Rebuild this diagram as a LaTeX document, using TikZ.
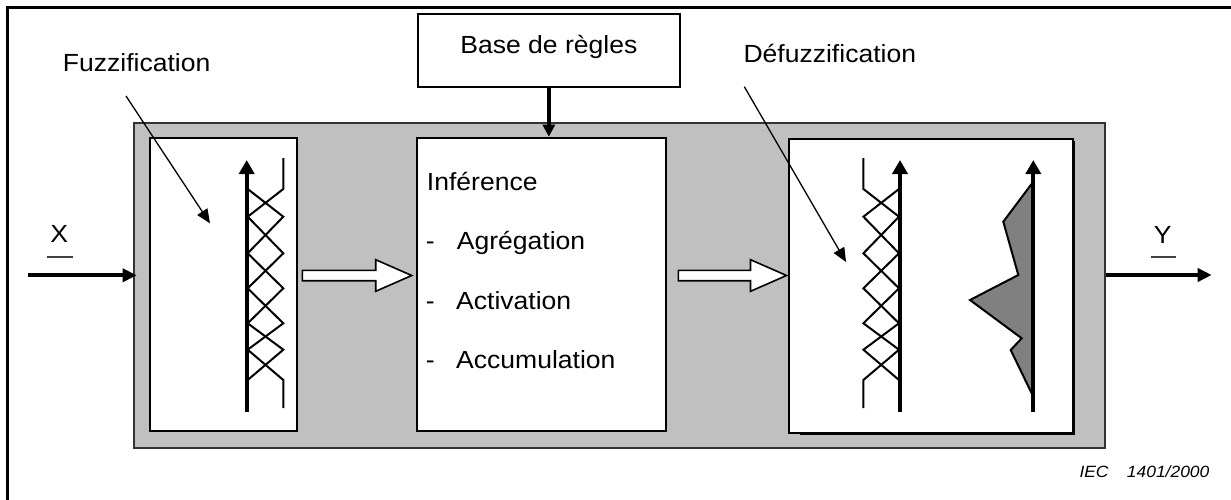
\documentclass[tikz,border=0pt]{standalone}
\usepackage{fontspec}
\setmainfont{Liberation Sans}[FakeStretch=1.07]
\usetikzlibrary{arrows.meta,calc}

\definecolor{panelgray}{HTML}{C0C0C0}
\definecolor{outgray}{HTML}{808080}
\definecolor{ulgray}{HTML}{404040}

% draws a white block arrow from #1 to #2 (horizontal)
\newcommand\blockarrowdraw[2]{%
  \draw[hollow] ($(#1)+(0,-5.2)$) -- ($(#2)+(-36,-5.2)$) -- ($(#2)+(-36,-15.8)$)
    -- (#2) -- ($(#2)+(-36,15.8)$) -- ($(#2)+(-36,5.2)$) -- ($(#1)+(0,5.2)$) -- cycle;}

\tikzset{
  pics/mfset/.style={code={
    \draw[mf] (36.6,158) -- (36.6,189) -- (1,216.7);
    \draw[mf] (1,189) -- (36.6,216.7) -- (1,253.3);
    \draw[mf] (1,216.7) -- (36.6,253.3) -- (1,288.3);
    \draw[mf] (1,253.3) -- (36.6,288.3) -- (1,323.3);
    \draw[mf] (1,288.3) -- (36.6,323.3) -- (1,349.7);
    \draw[mf] (1,323.3) -- (36.6,349.7) -- (1,380);
    \draw[mf] (1,349.7) -- (36.6,380) -- (36.6,408);
  }}
}

\begin{document}
\begin{tikzpicture}[x=1pt,y=-1pt,
  lbl/.style={inner sep=0pt, anchor=base west, font=\fontsize{24.8}{29}\selectfont},
  iec/.style={inner sep=0pt, anchor=base west, font=\fontsize{16.3}{19}\selectfont\itshape},
  box/.style={draw=black, line width=2pt, fill=white, inner sep=0pt, anchor=north west},
  panel/.style={draw=black!80, line width=1.8pt, fill=panelgray, inner sep=0pt, anchor=north west},
  axis/.style={line width=4.2pt, -{Triangle[length=14pt,width=15pt]}},
  mf/.style={line width=2pt, line join=miter},
  io/.style={line width=4.2pt, -{Triangle[length=14pt,width=13pt]}},
  feed/.style={line width=4.2pt, -{Triangle[length=12pt,width=12pt]}},
  ptr/.style={line width=1.3pt, -{Triangle[length=14pt,width=12pt]}},
  hollow/.style={draw=black, line width=1.6pt, fill=white, line join=miter},
  uline/.style={draw=ulgray, line width=1.8pt},
]
\useasboundingbox (0,0) rectangle (1231,500);

% sheet frame (top and left edges)
\draw[line width=2.4pt] (7.5,500) -- (7.5,7.5) -- (1231,7.5);

% grey system block and its three stages
\node[panel, minimum width=971pt, minimum height=325pt] (panel) at (133,122) {};
\node[box, minimum width=146.7pt, minimum height=292.7pt] (fuzz) at (149,137.3) {};
\node[box, minimum width=249.3pt, minimum height=293.3pt] (infer) at (415.7,136.7) {};
\fill[black] (800,141) rectangle (1075,434.8);
\node[box, minimum width=284pt, minimum height=293.4pt] (defuzz) at (788.3,138.3) {};

% rule base
\node[box, minimum width=262.3pt, minimum height=73.3pt, text height=18pt, text depth=11.3pt,
      font=\fontsize{24.8}{29}\selectfont] (rules) at (416.7,12.7) {Base de règles};
\draw[feed] (rules.south) -- (rules.south |- infer.north);

% inference text
\node[lbl] (inf) at (426.7,190.7) {Inférence};
\node[lbl] (agr) at (425.7,249.5) {\makebox[31pt][l]{-}Agrégation};
\node[lbl] (act) at (425.7,309.5) {\makebox[30.3pt][l]{-}Activation};
\node[lbl] (acc) at (425.7,368.5) {\makebox[30.3pt][l]{-}Accumulation};

% input and output
\coordinate (xin) at (28.3,275.3);
\draw[io] (xin) -- ($(xin -| panel.west)+(3.7,0)$);
\node[lbl, anchor=base] (xl) at (59.3,242.7) {X};
\draw[uline] ($(xl.base)+(-12.7,14)$) -- ($(xl.base)+(13.4,14)$);

\coordinate (yout) at (1211.7,275);
\draw[io] (yout -| panel.east) -- (yout);
\node[lbl, anchor=base] (yl) at (1162.7,243.3) {Y};
\draw[uline] ($(yl.base)+(-12,13.4)$) -- ($(yl.base)+(13.3,13.4)$);

% block arrows between stages
\coordinate (b1s) at (302.3,275.5);
\coordinate (b1e) at (411.7,275.5);
\coordinate (b2s) at (678.3,275.5);
\coordinate (b2e) at (786.5,275.5);
\blockarrowdraw{b1s}{b1e}
\blockarrowdraw{b2s}{b2e}

% fuzzification: membership functions along the input axis
\pic at (246.7,0) {mfset};
\draw[axis] (246.7,411.7) -- (246.7,160);

% defuzzification: membership functions and output set
\pic[xscale=-1] at (900,0) {mfset};
\draw[axis] (900,411.7) -- (900,160);
\filldraw[fill=outgray, draw=black, line width=2pt, line join=miter]
  (1033.3,181.7) -- (1003.3,221.7) -- (1018.3,275) -- (970,300) -- (1021.7,338.3)
  -- (1010.7,350) -- (1033.3,396.7) -- cycle;
\draw[axis] (1033.3,411.7) -- (1033.3,160);

% stage captions
\node[lbl] (fzl) at (62.7,71.7) {Fuzzification};
\coordinate (fzp) at (126,96);
\coordinate (fzt) at (210,223.3);
\draw[ptr] (fzp) -- (fzt);

\node[lbl] (dfl) at (743.3,62.7) {Défuzzification};
\coordinate (dfp) at (744.3,86.7);
\coordinate (dft) at (846,262);
\draw[ptr] (dfp) -- (dft);

% figure reference
\node[iec] (iec1) at (1079.3,477.3) {IEC};
\node[iec] (iec2) at (1126.7,477.3) {1401/2000};
\end{tikzpicture}
\end{document}
